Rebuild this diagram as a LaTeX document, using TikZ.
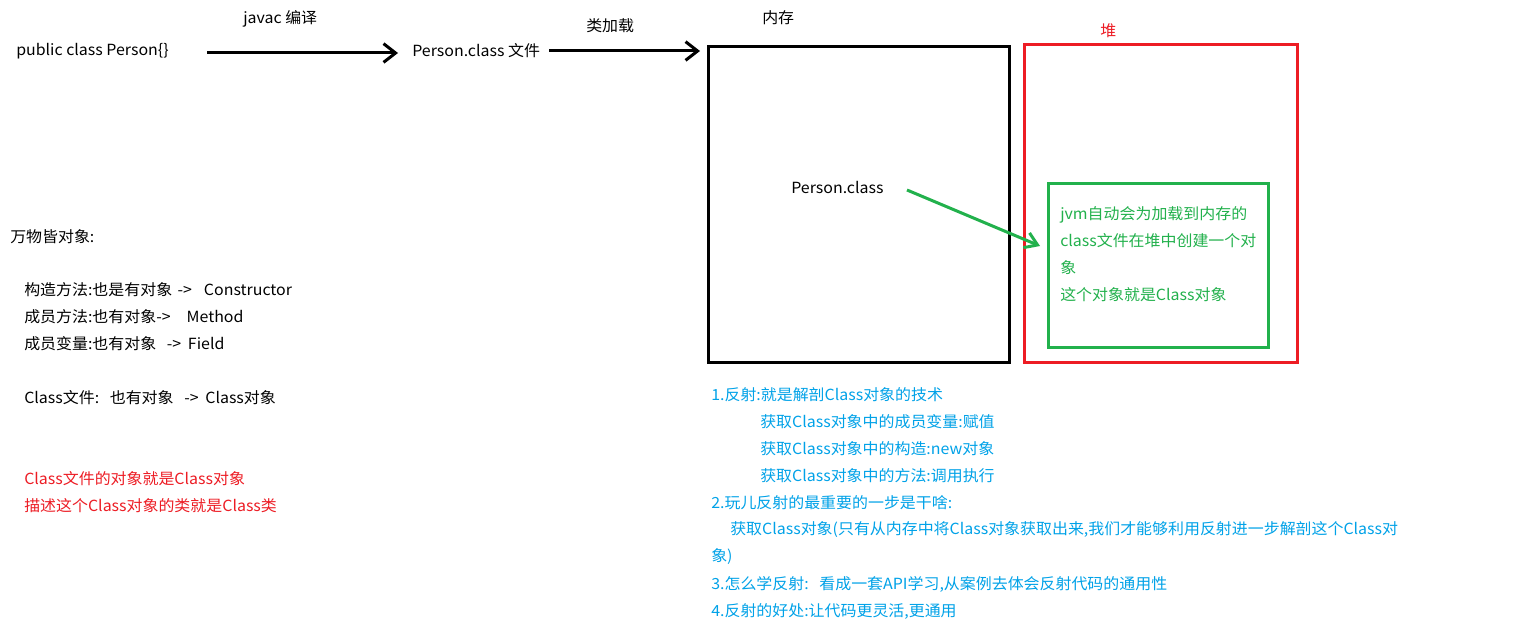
\documentclass[tikz,border=0pt]{standalone}
\usepackage{fontspec}
\setmainfont{Noto Sans CJK SC}[FakeStretch=1.04]
\usetikzlibrary{arrows.meta}
\definecolor{jred}{RGB}{237,28,36}
\definecolor{jgreen}{RGB}{34,177,76}
\definecolor{jblue}{RGB}{0,162,232}
\tikzset{
  txt/.style={anchor=west, inner sep=0pt, font=\fontsize{11.5pt}{13.5pt}\selectfont},
  bigarrow/.style={line width=2.25pt, -{Straight Barb[length=9pt,width=14pt,line width=2.25pt]}},
  frame/.style={line width=2.25pt},
}
\begin{document}
\begin{tikzpicture}[x=0.75pt,y=-0.75pt]
\useasboundingbox (0,0) rectangle (1520,635);
\fill[white] (0,0) rectangle (1520,635);

% top row
\node[txt] (src) at (16,51) {public class Person\{\}};
\node[txt] (javac) at (243,19) {javac 编译};
\node[txt] (pcf) at (412,51) {Person.class 文件};
\node[txt] (load) at (586,26) {类加载};
\node[txt] (mem) at (762,18) {内存};
\coordinate (a1s) at (207,53);
\coordinate (a1e) at (398,53);
\coordinate (a2s) at (549,51);
\coordinate (a2e) at (700,51);
\draw[bigarrow] (a1s) -- (a1e);
\draw[bigarrow] (a2s) -- (a2e);

% memory box
\draw[frame] (708,47) rectangle (1009,362);
\node[txt] (pc) at (791,187) {Person.class};

% heap
\draw[frame, jred] (1024,45) rectangle (1297,362);
\node[txt, text=jred] (heap) at (1100,31) {堆};
\draw[frame, jgreen] (1048,183) rectangle (1268,347);
\node[txt, text=jgreen, align=left, font=\fontsize{11.5pt}{20.25pt}\selectfont] (jvm) at (1060,254)
  {jvm自动会为加载到内存的\\class文件在堆中创建一个对\\象\\这个对象就是Class对象};
\coordinate (ga) at (907,190);
\coordinate (gb) at (1040,246);
\draw[line width=2.25pt, jgreen, -{Straight Barb[length=9pt,width=12pt,line width=2.25pt]}] (ga) -- (gb);

% left column
\node[txt] (all) at (10,237) {万物皆对象:};
\node[txt] (l1) at (24,290) {构造方法:也是有对象\hspace{4pt}->\hspace{9pt}Constructor};
\node[txt] (l2) at (24,317) {成员方法:也有对象->\hspace{12pt}Method};
\node[txt] (l3) at (24,344) {成员变量:也有对象\hspace{8pt}->\hspace{5pt}Field};
\node[txt] (l4) at (24,398) {Class文件:\hspace{8pt}也有对象\hspace{8pt}->\hspace{5pt}Class对象};
\node[txt, text=jred] (r1) at (24,479) {Class文件的对象就是Class对象};
\node[txt, text=jred] (r2) at (24,506) {描述这个Class对象的类就是Class类};

% blue notes
\node[txt, text=jblue] (b1) at (711,395) {1.反射:就是解剖Class对象的技术};
\node[txt, text=jblue] (b2) at (760,422) {获取Class对象中的成员变量:赋值};
\node[txt, text=jblue] (b3) at (760,449) {获取Class对象中的构造:new对象};
\node[txt, text=jblue] (b4) at (760,476) {获取Class对象中的方法:调用执行};
\node[txt, text=jblue] (b5) at (711,503) {2.玩儿反射的最重要的一步是干啥:};
\node[txt, text=jblue] (b6) at (730,530) {获取Class对象(只有从内存中将Class对象获取出来,我们才能够利用反射进一步解剖这个Class对};
\node[txt, text=jblue] (b7) at (711,557) {象)};
\node[txt, text=jblue] (b8) at (711,584) {3.怎么学反射:\hspace{8pt}看成一套API学习,从案例去体会反射代码的通用性};
\node[txt, text=jblue] (b9) at (711,611) {4.反射的好处:让代码更灵活,更通用};
\end{tikzpicture}
\end{document}
